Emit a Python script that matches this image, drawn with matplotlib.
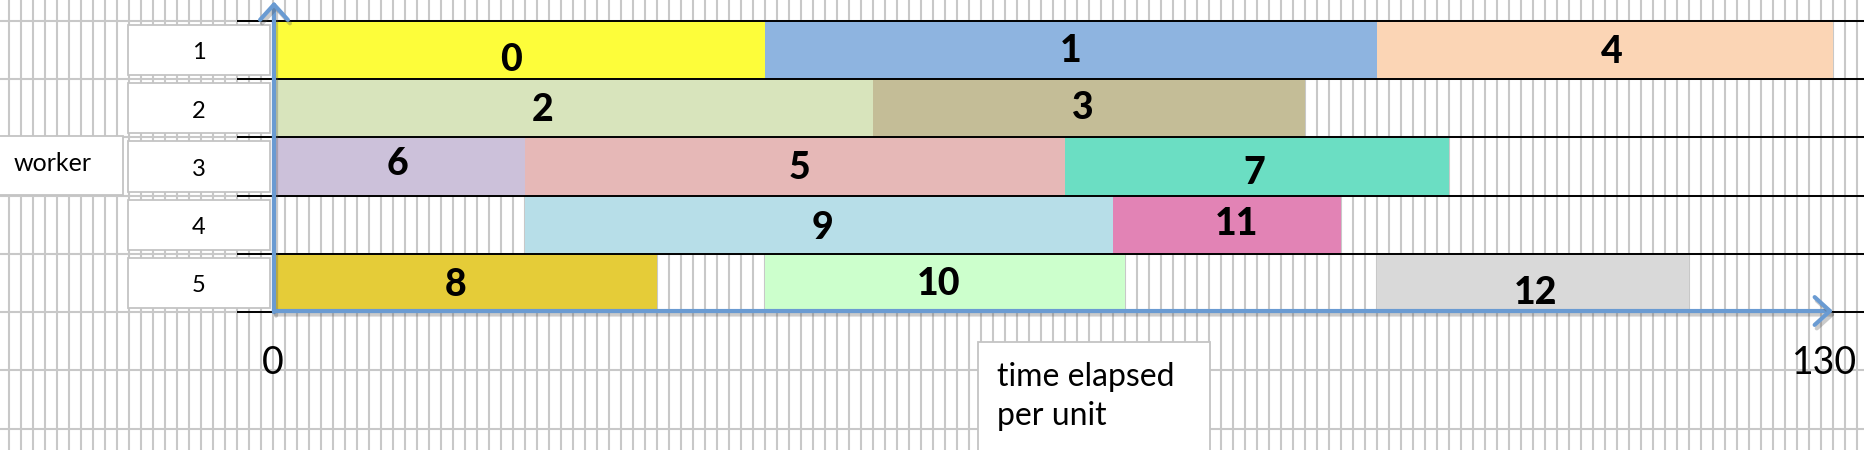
import matplotlib
matplotlib.use("Agg")
import matplotlib.pyplot as plt
import matplotlib.patheffects as pe
from matplotlib.patches import Rectangle

# tasks, which worker ran them, start and end in time units
tasks = ['0', '1', '4', '2', '3', '6', '5', '7', '9', '11', '8', '10', '12']
workers = [1, 1, 1, 2, 2, 3, 3, 3, 4, 4, 5, 5, 5]
starts = [0, 41, 92, 0, 50, 0, 21, 66, 21, 70, 0, 41, 92]
ends = [41, 92, 130, 50, 86, 21, 66, 98, 70, 89, 32, 71, 118]
colors = ['#fdfd3a', '#8eb4e0', '#fbd5b5', '#d8e4bc', '#c4bd97', '#ccc1da',
          '#e6b8b7', '#6bdec3', '#b7dee8', '#e283b5', '#e5cc38', '#ccffcc',
          '#d9d9d9']
worker_ids = [1, 2, 3, 4, 5]
time_ticks = [0, 130]

# where the task numbers sit
label_x = [19.8, 66.5, 111.6, 22.5, 67.5, 10.4, 43.9, 81.75, 45.75, 80.3, 15.2, 55.5, 105.2]
label_dy = [0.18, 0.02, 0.03, 0.03, 0.0, -0.05, 0.03, 0.12, 0.05, -0.02, 0.03, 0.02, 0.17]

AXIS_BLUE = '#6a9bd2'
GRID = '#c8c8c8'


def main():
    fig = plt.figure(figsize=(18.64, 4.5), dpi=100)
    ax = fig.add_axes([0, 0, 1, 1])
    ax.axis('off')
    ax.set_xlim(-22.75, 132.58)
    ax.set_ylim(7.864, 0.145)

    # spreadsheet grid
    for t in range(-23, 134):
        ax.axvline(t, color=GRID, lw=1.5, zorder=0)
    for y in [0.5 + k for k in range(8)]:
        ax.axhline(y, color=GRID, lw=1.5, zorder=0)

    # task bars
    widths = [e - s for s, e in zip(starts, ends)]
    ax.barh(workers, widths, left=starts, height=1.0, color=colors,
            edgecolor='none', zorder=2)

    # row separators
    ax.hlines([w - 0.5 for w in worker_ids] + [worker_ids[-1] + 0.5],
              -3, 133, color='black', lw=1.4, zorder=3)

    for name, x, w, dy in zip(tasks, label_x, workers, label_dy):
        ax.text(x, w + dy, name, ha='center', va='center', fontsize=27,
                fontweight='black', family='Lato', zorder=4)

    # worker boxes
    for w in worker_ids:
        ax.add_patch(Rectangle((-12.08, w - 0.43), 11.83, 0.86, facecolor='white',
                               edgecolor='#c4c4c4', lw=1.3, zorder=2))
        ax.text(-6.2, w + 0.05, str(w), ha='center', va='center', fontsize=17,
                family='Lato', zorder=3)
    ax.add_patch(Rectangle((-23.5, 2.48), 11.0, 1.01, facecolor='white',
                           edgecolor='#c4c4c4', lw=1.3, zorder=2))
    ax.text(-18.4, 2.95, 'worker', ha='center', va='center', fontsize=18,
            family='Lato', zorder=3)

    # axes arrows
    shadow = [pe.SimpleLineShadow(offset=(1.5, -2.5), shadow_color='#555555', alpha=0.3),
              pe.Normal()]
    arrow = dict(arrowstyle='->,head_length=0.55,head_width=0.5', color=AXIS_BLUE,
                 lw=3.0, shrinkA=0, shrinkB=0, mutation_scale=20,
                 path_effects=shadow)
    ax.annotate('', xy=(0.08, 0.17), xytext=(0.08, 5.5), arrowprops=arrow, zorder=5)
    ax.annotate('', xy=(130, 5.48), xytext=(0.08, 5.48), arrowprops=arrow, zorder=5)

    ax.text(time_ticks[0], 6.37, str(time_ticks[0]), ha='center', va='center',
            fontsize=27, family='Lato', zorder=3)
    ax.text(time_ticks[1] - 0.7, 6.37, str(time_ticks[1]), ha='center', va='center',
            fontsize=27, family='Lato', zorder=3)

    # x axis caption box
    ax.add_patch(Rectangle((58.75, 6.02), 19.35, 2.5, facecolor='white',
                           edgecolor='#c4c4c4', lw=1.3, zorder=2))
    ax.text(60.3, 6.77, 'time elapsed', ha='left', va='baseline', fontsize=23,
            family='Lato', zorder=3)
    ax.text(60.3, 7.44, 'per unit', ha='left', va='baseline', fontsize=23,
            family='Lato', zorder=3)

    fig.savefig('out.png', dpi=100)


if __name__ == "__main__":
    main()
